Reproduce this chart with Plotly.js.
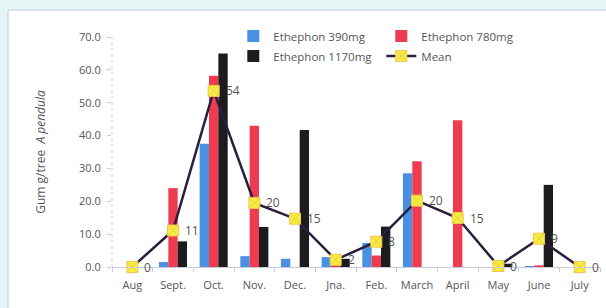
<!DOCTYPE html>
<html>
<head>
<meta charset="utf-8">
<script src="https://cdn.plot.ly/plotly-3.0.1.min.js"></script>
<style>html,body{margin:0;padding:0;background:#e4f6f6;}#chart{width:606px;height:308px;}</style>
</head>
<body>
<div id="chart"></div>
<script>
const months = ["Aug", "Sept.", "Oct.", "Nov.", "Dec.", "Jna.", "Feb.", "March", "April", "May", "June", "July"];
const eth390 = [0, 1.5, 37.5, 3.3, 2.5, 3.0, 7.3, 28.5, 0, 0, 0.3, 0];
const eth780 = [0, 24.0, 58.2, 43.0, 0, 1.0, 3.5, 32.2, 44.7, 0, 0.5, 0];
const eth1170 = [0, 7.8, 65.0, 12.2, 41.7, 2.5, 12.3, 0, 0, 1.0, 25.0, 0];
const meanVals = [0, 11.1, 53.6, 19.5, 14.7, 2.2, 7.7, 20.2, 14.9, 0.3, 8.6, 0];
const meanLabels = ["0", "11", "54", "20", "15", "2", "8", "20", "15", "0", "9", "0"];
const yTicks = [0, 10, 20, 30, 40, 50, 60, 70];

const fontFam = "Open Sans, Noto Sans, sans-serif";
const gray = "#555555";

const traces = [
  {type: "bar", name: "Ethephon 390mg", x: months, y: eth390, marker: {color: "#4a90e2"}, legend: "legend"},
  {type: "bar", name: "Ethephon 780mg", x: months, y: eth780, marker: {color: "#ee3b50"}, legend: "legend"},
  {type: "bar", name: "Ethephon 1170mg", x: months, y: eth1170, marker: {color: "#1c1c1e"}, legend: "legend2"},
  {type: "scatter", mode: "lines+markers", name: "Mean", x: months, y: meanVals,
   line: {color: "#2b1d3c", width: 2.5},
   marker: {symbol: "square-x", size: 11, color: "#f6ee3c", line: {color: "#f0c850", width: 1}},
   cliponaxis: false, legend: "legend2"}
];

const labelAnnots = months.map((m, i) => ({
  x: m, y: meanVals[i], xref: "x", yref: "y", text: meanLabels[i], showarrow: false,
  xanchor: "left", yanchor: "middle", xshift: 10,
  font: {family: fontFam, size: 12, color: gray}
}));

const legendCommon = {orientation: "h", xref: "container", yref: "container", x: 0.385, xanchor: "left", yanchor: "middle",
  entrywidth: 103, entrywidthmode: "pixels", bgcolor: "rgba(0,0,0,0)", font: {family: fontFam, size: 11.5, color: gray}, itemwidth: 30};

const layout = {
  width: 606, height: 308,
  paper_bgcolor: "#e4f6f6", plot_bgcolor: "rgba(0,0,0,0)",
  margin: {l: 112, r: 6, t: 37, b: 41, autoexpand: false},
  barmode: "group", bargap: 0.31, bargroupgap: 0,
  font: {family: fontFam, size: 11, color: gray},
  showlegend: true,
  xaxis: {
    type: "category", range: [-0.5, 11.5], showline: true, linecolor: "#c8cce0", linewidth: 1,
    ticks: "outside", tickson: "boundaries", ticklen: 4, tickcolor: "#c8cce0",
    showgrid: false, zeroline: false, ticklabelstandoff: 8, tickangle: 0,
    tickfont: {family: fontFam, size: 11, color: gray}, automargin: false
  },
  yaxis: {
    range: [0, 70], tickvals: yTicks, tickformat: ".1f",
    showline: false, ticks: "outside", ticklen: 4, tickcolor: "#c8cce0",
    showgrid: false, zeroline: false, ticklabelstandoff: 4,
    tickfont: {family: fontFam, size: 11, color: gray}, automargin: false,
    title: {text: "Gum g/tree  <i>A pendula</i>", standoff: 30, font: {family: fontFam, size: 12, color: gray}}
  },
  legend: Object.assign({}, legendCommon, {y: 0.883}),
  legend2: Object.assign({}, legendCommon, {y: 0.818}),
  annotations: labelAnnots,
  shapes: [
    {type: "rect", xref: "paper", yref: "paper", x0: -104/488, x1: 1.1, y0: -0.5, y1: 1 + 27/230,
     fillcolor: "#ffffff", line: {color: "#c4c8dc", width: 1}, layer: "below"},
    {type: "line", xref: "paper", yref: "paper", x0: 0, x1: 0, y0: 0, y1: 1,
     line: {color: "#c8cce0", width: 1, dash: "dot"}, layer: "below"}
  ]
};

Plotly.newPlot("chart", traces, layout, {displayModeBar: false, staticPlot: true});
</script>
</body>
</html>
